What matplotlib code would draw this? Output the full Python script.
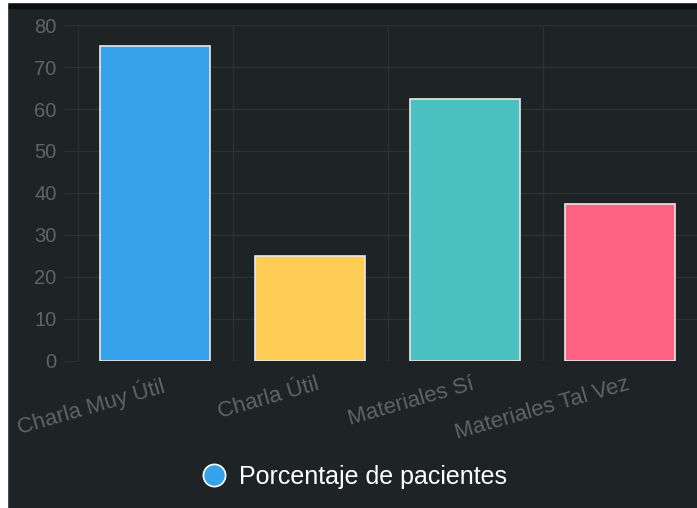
import matplotlib
matplotlib.use("Agg")
import matplotlib.pyplot as plt
import matplotlib.transforms as mtransforms
from matplotlib.patches import Rectangle
from matplotlib.lines import Line2D

categories = ["Charla Muy Útil", "Charla Útil", "Materiales Sí", "Materiales Tal Vez"]
values = [75, 25, 62.5, 37.5]
colors = ["#36a2eb", "#ffcd56", "#4bc0c0", "#ff6384"]
series_name = "Porcentaje de pacientes"
yticks = [0, 10, 20, 30, 40, 50, 60, 70, 80]

plt.rcParams['font.family'] = ['Liberation Sans', 'DejaVu Sans']

W, H = 697, 508
bg = "#1e2426"
grid = "#2b3133"
tickc = "#5f6566"
fig = plt.figure(figsize=(W / 100, H / 100), dpi=100, facecolor=bg)

# frame strips (white left edge, dark top band)
fig.patches.append(Rectangle((0, 0), 7 / W, 1, transform=fig.transFigure, color="white", zorder=10))
fig.patches.append(Rectangle((0, 1 - 8 / H), 1, 8 / H, transform=fig.transFigure, color="#0c0f10", zorder=9))
fig.patches.append(Rectangle((0, 1 - 2 / H), 1, 2 / H, transform=fig.transFigure, color="white", zorder=10))

left = 77.5 / W
right = 697.5 / W
bottom = (H - 361) / H
top = (H - 25) / H
ax = fig.add_axes([left, bottom, right - left, top - bottom])
ax.set_facecolor(bg)

x = list(range(len(categories)))
ax.bar(x, values, width=0.71, color=colors, edgecolor="#e8e8e8", linewidth=1.2, zorder=3)

ax.set_xlim(-0.5, len(categories) - 0.5)
ax.set_ylim(0, 80)
ax.set_yticks(yticks)
ax.set_yticklabels([str(v) for v in yticks], color=tickc, fontsize=14.5)
ax.tick_params(axis="y", length=10, color=grid, pad=5)

# vertical gridlines at category boundaries
for b in [i - 0.5 for i in range(len(categories))]:
    ax.axvline(b, color=grid, linewidth=1, zorder=1)
ax.yaxis.grid(True, color=grid, linewidth=1, zorder=1)
ax.set_axisbelow(True)

ax.set_xticks(x)
ax.set_xticklabels(categories, rotation=16, ha="right", rotation_mode="anchor",
                   color=tickc, fontsize=16)
ax.tick_params(axis="x", length=0, pad=9)
offset = mtransforms.ScaledTranslation(6 / 100, 0, fig.dpi_scale_trans)
for lbl in ax.get_xticklabels():
    lbl.set_transform(lbl.get_transform() + offset)

for s in ax.spines.values():
    s.set_visible(False)

# legend
handle = Line2D([], [], marker="o", linestyle="none", markersize=16,
                markerfacecolor=colors[0], markeredgecolor="white", markeredgewidth=1.2)
fig.legend([handle], [series_name], loc="center", bbox_to_anchor=(354 / W, 1 - 477 / H),
           frameon=False, fontsize=18, labelcolor="white", handletextpad=0.5,
           handlelength=1.0)

fig.savefig("out.png", dpi=100, facecolor=bg)
